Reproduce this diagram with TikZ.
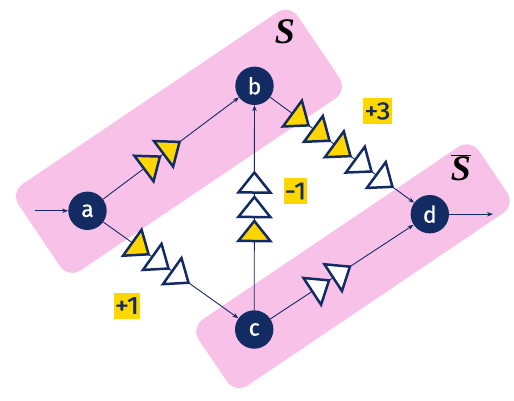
\documentclass[tikz,border=0pt]{standalone}
\usepackage{fontspec}
\setsansfont{Fira Sans}
\newfontfamily\labfont[FakeBold=0.8]{Fira Sans}
\newfontfamily\numfont[FakeBold=0.8,FakeStretch=1.12]{Fira Sans}
\newfontfamily\serifS{Liberation Serif}
\usetikzlibrary{arrows.meta,calc}
\definecolor{navy}{RGB}{19,43,99}
\definecolor{gold}{RGB}{255,214,0}
\definecolor{pinkband}{RGB}{248,194,232}
\tikzset{
  vtx/.style={circle,fill=navy,minimum size=38.4pt,inner sep=0pt,text=white,font=\labfont\fontsize{23}{23}\selectfont},
  band/.style={fill=pinkband,rounded corners=15pt,inner sep=0pt},
  edge/.style={draw=navy,line width=0.9pt,-{Stealth[length=6pt,width=4.5pt]}},
  tribox/.style={draw=navy,line width=2.5pt,line join=miter},
  val/.style={fill=gold,text=navy,font=\numfont\fontsize{25}{25}\selectfont,inner xsep=1pt,inner ysep=3pt,minimum height=26pt},
  setlab/.style={font=\serifS\bfseries\itshape\fontsize{36}{36}\selectfont}
}
\newcommand\tri[4]{%
  \draw[tribox,fill=#4] let \p1=($(#2)-(#1)$), \n1={atan2(\y1,\x1)}, \n2={\n1+90}, \n3={\n1-90},
    \p2=($(#1)!#3pt!(#2)$) in
    ($(\p2)+(\n1:20pt)$) -- ($(\p2)+(\n2:16pt)$) -- ($(\p2)+(\n3:16pt)$) -- cycle;
}
\begin{document}
\begin{tikzpicture}[x=1pt,y=-1pt]
\useasboundingbox (0,0) rectangle (514,401);
% bands
\node[band,rotate=34,minimum width=337pt,minimum height=104pt] (S) at (179,141.3) {};
\node[band,rotate=34,minimum width=338pt,minimum height=80pt] (Sbar) at (353,266.2) {};
% vertices
\node[vtx] (a) at (87.5,210.8) {a};
\node[vtx] (b) at (254.5,85.8) {b};
\node[vtx] (c) at (254.2,329.5) {c};
\node[vtx] (d) at (429.8,214.2) {d};
\coordinate (in) at (35,210.8);
\coordinate (out) at (493,214.2);
% edges
\draw[edge] (in) -- (a);
\draw[edge] (d) -- (out);
\draw[edge] (a) -- (b);
\draw[edge] (a) -- (c);
\draw[edge] (b) -- (d);
\draw[edge] (c) -- (d);
\draw[edge] (c) -- (b);
% triangles
\tri{a}{b}{70.5}{gold}
\tri{a}{b}{95}{gold}
\tri{a}{c}{55}{gold}
\tri{a}{c}{79.5}{white}
\tri{a}{c}{104}{white}
\tri{b}{d}{47}{gold}
\tri{b}{d}{73}{gold}
\tri{b}{d}{99}{gold}
\tri{b}{d}{125}{white}
\tri{b}{d}{151}{white}
\tri{c}{d}{69.5}{white}
\tri{c}{d}{94.5}{white}
\tri{c}{b}{88.5}{gold}
\tri{c}{b}{112.5}{white}
\tri{c}{b}{137}{white}
% value labels
\node[val] (v3) at (377.5,111) {+3};
\node[val] (v1m) at (295.5,191) {-1};
\node[val] (v1p) at (127,305.5) {+1};
% set labels
\node[setlab] (Slab) at (285,32) {S};
\node[setlab] (Sbarlab) at (461,168) {$\overline{\hbox{\serifS\bfseries\itshape\fontsize{36}{36}\selectfont S}}$};
\end{tikzpicture}
\end{document}
